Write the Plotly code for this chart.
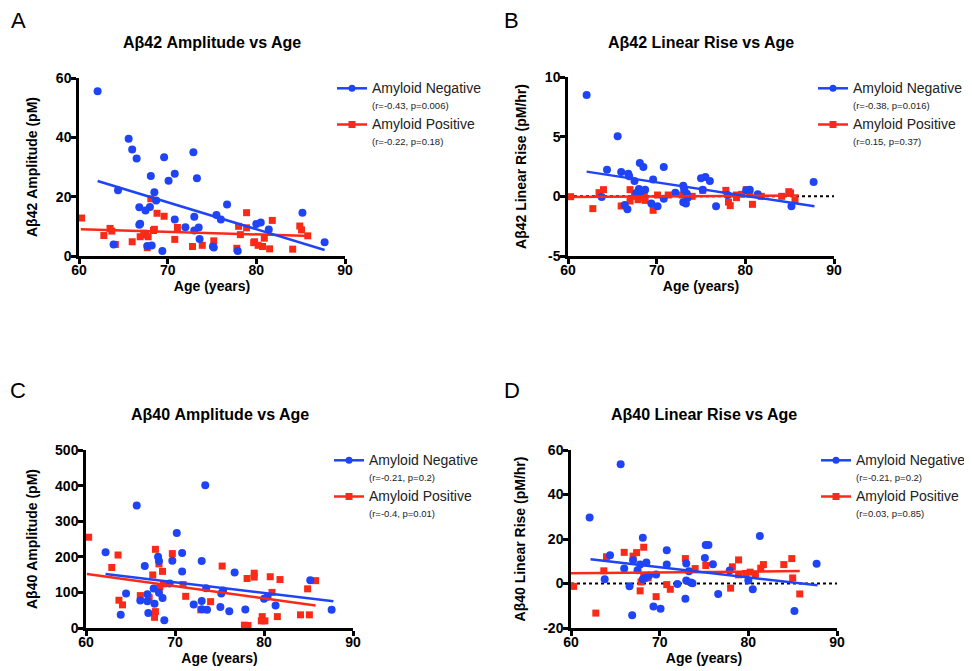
import plotly.graph_objects as go

# ---------------- DATA ----------------
# Panel A: Abeta42 amplitude (pM)
a_neg_age = [62.1, 65.6, 66.0, 66.5, 68.1, 69.6, 70.8, 70.1, 72.9, 73.3, 64.4, 68.5, 68.7, 66.8, 68.0, 67.5,
             70.8, 73.0, 76.7, 75.5, 76.0, 66.9, 66.8, 72.0, 73.5, 73.0, 80.0, 80.5, 81.4, 85.2, 73.6, 63.9,
             67.7, 68.2, 75.1, 75.2, 69.4, 77.9, 87.7]
a_neg_val = [55.5, 39.5, 35.9, 32.9, 27.0, 33.3, 27.7, 25.4, 35.0, 26.2, 22.2, 21.5, 18.7, 16.4, 16.5, 15.3,
             12.3, 13.2, 17.4, 13.8, 12.3, 10.9, 10.5, 9.7, 9.6, 8.6, 10.8, 11.3, 8.9, 14.6, 5.7, 3.9,
             3.4, 3.5, 3.2, 2.9, 1.7, 1.7, 4.6]
a_pos_age = [60.3, 62.8, 63.5, 63.7, 64.1, 66.0, 66.9, 67.3, 67.5, 67.8, 67.7, 68.1, 68.8, 69.6, 68.4, 68.5,
             70.8, 71.1, 72.8, 73.9, 75.2, 78.0, 78.2, 78.9, 78.9, 77.8, 79.7, 79.8, 80.2, 80.7, 80.9, 81.5,
             81.8, 84.1, 84.9, 85.1, 85.8]
a_pos_val = [12.8, 6.9, 9.3, 8.4, 3.9, 4.8, 6.5, 7.7, 7.1, 6.5, 2.8, 19.3, 14.4, 13.4, 8.6, 9.0,
             5.6, 9.6, 3.2, 3.6, 5.1, 10.0, 7.2, 14.6, 9.5, 2.6, 4.5, 4.8, 3.6, 3.2, 6.0, 2.4,
             12.0, 2.3, 10.1, 8.8, 6.8]
a_neg_fit_age = [62.1, 87.7]
a_neg_fit_val = [25.3, 2.0]
a_pos_fit_age = [60.2, 86.1]
a_pos_fit_val = [9.0, 6.75]

# Panel B: Abeta42 linear rise (pM/hr)
b_neg_age = [62.1, 65.6, 64.4, 66.0, 66.8, 66.9, 67.5, 68.1, 68.5, 70.8, 69.6, 67.7, 68.0, 68.2, 68.7, 63.8,
             66.4, 66.7, 69.4, 70.1, 70.8, 72.1, 73.0, 73.1, 73.4, 73.5, 73.0, 73.3, 75.0, 75.5, 76.0, 75.2,
             76.7, 78.0, 80.1, 80.5, 81.4, 85.2, 87.7]
b_neg_val = [8.49, 5.03, 2.23, 2.04, 1.90, 1.68, 1.28, 2.79, 2.46, 2.46, 1.42, 0.28, 0.61, 0.39, 0.56, -0.06,
             -0.73, -1.09, -0.61, -0.84, -0.20, 0.31, 0.89, 0.56, 0.22, -0.11, -0.50, -0.61, 1.51, 1.62, 1.28, 0.56,
             -0.84, 0.11, 0.50, 0.56, 0.17, -0.84, 1.20]
b_pos_age = [60.3, 62.8, 63.5, 64.0, 66.0, 67.0, 67.0, 67.5, 67.9, 68.4, 68.4, 68.6, 68.7, 69.6, 70.1, 71.3,
             72.9, 74.0, 75.2, 77.8, 78.1, 78.3, 79.0, 79.0, 79.6, 80.1, 80.5, 80.8, 81.8, 84.1, 84.9, 85.1,
             85.6]
b_pos_val = [-0.03, -1.03, 0.31, 0.56, -0.81, 0.56, -0.39, 0.0, -0.28, -0.14, 0.11, 0.22, -0.34, -1.17, 0.11, 0.11,
             0.11, 0.0, 0.5, 0.5, -0.48, -0.78, 0.11, -0.11, 0.17, 0.56, 0.17, -0.67, 0.0, 0.0, 0.39, 0.28,
             -0.34]
b_neg_fit_age = [62.1, 87.8]
b_neg_fit_val = [2.07, -0.84]
b_pos_fit_age = [60.0, 86.0]
b_pos_fit_val = [-0.06, 0.08]

# Panel C: Abeta40 amplitude (pM)
c_neg_age = [62.2, 65.7, 73.4, 70.2, 70.8, 70.8, 69.7, 73.0, 68.1, 68.2, 66.6, 64.5, 63.9, 66.1, 66.9, 66.9,
             67.0, 67.6, 67.7, 68.2, 68.6, 68.8, 69.4, 72.1, 73.0, 73.0, 73.6, 73.5, 75.1, 75.2, 75.4, 76.7,
             76.1, 77.9, 80.0, 80.4, 81.3, 85.2, 87.6]
c_neg_val = [213, 344, 401, 267, 211, 159, 189, 188, 200, 188, 174, 97, 37, 77, 95, 75,
             42, 111, 68, 99, 84, 22, 125, 66, 76, 53, 51, 112, 59, 97, 105, 156,
             47, 52, 82, 88, 63, 134, 51]
c_pos_age = [60.3, 62.9, 63.6, 63.7, 64.1, 66.1, 67.1, 67.5, 67.8, 68.2, 68.6, 68.7, 68.3, 67.8, 67.7, 69.7,
             70.9, 71.2, 72.9, 74.0, 75.3, 78.1, 78.9, 78.9, 77.8, 78.2, 79.8, 79.7, 80.1, 80.7, 80.9, 81.5,
             81.8, 84.1, 85.1, 84.9, 85.8]
c_pos_val = [255, 170, 205, 78, 65, 91, 85, 149, 221, 180, 159, 124, 115, 46, 30, 209,
             122, 89, 51, 74, 174, 139, 154, 143, 8, 7, 32, 20, 20, 144, 100, 32,
             136, 37, 37, 110, 133]
c_neg_fit_age = [62.2, 87.8]
c_neg_fit_val = [152, 75]
c_pos_fit_age = [60.1, 85.8]
c_pos_fit_val = [152, 63]

# Panel D: Abeta40 linear rise (pM/hr)
d_neg_age = [62.1, 65.6, 63.8, 64.4, 66.0, 66.6, 66.9, 67.0, 67.5, 67.8, 68.1, 68.1, 68.4, 68.5, 68.8, 69.3,
             69.6, 70.1, 70.8, 70.8, 72.0, 72.9, 73.0, 73.0, 73.3, 73.5, 73.7, 75.1, 75.2, 75.5, 76.0, 76.6,
             77.9, 80.0, 80.5, 81.3, 85.2, 87.7]
d_neg_val = [29.7, 53.6, 1.9, 12.7, 6.7, -1.2, -14.3, 10.5, 6.0, 8.5, 20.6, 1.9, 2.5, 9.4, 3.6, -10.3,
             4.0, -11.3, 14.9, 8.5, -0.2, -6.8, 9.0, 1.3, 5.5, 0.4, 0.1, 11.5, 17.3, 17.3, 8.6, -4.7,
             5.8, 1.3, -2.6, 21.3, -12.4, 8.9]
d_pos_age = [60.3, 62.8, 63.7, 64.0, 66.0, 67.0, 67.4, 67.8, 68.2, 67.9, 68.2, 68.7, 69.6, 70.8, 71.2, 72.9,
             74.0, 75.2, 78.0, 78.2, 78.9, 78.9, 79.7, 80.2, 80.8, 81.4, 81.7, 84.0, 84.9, 85.0, 85.8]
d_pos_val = [-1.3, -13.3, 5.7, 12.0, 14.0, 12.3, 13.9, -3.3, 16.3, 0.7, 3.1, 2.5, -5.9, -0.5, -2.6, 11.2,
             6.7, 8.1, -2.1, 7.5, 10.6, 3.9, 4.5, 5.1, 4.2, 6.9, 8.5, 8.5, 11.2, 2.5, -4.7]
d_neg_fit_age = [62.2, 87.8]
d_neg_fit_val = [10.9, -0.8]
d_pos_fit_age = [60.0, 85.8]
d_pos_fit_val = [4.6, 5.6]

zero_age = [60, 90]
zero_val = [0, 0]

age_ticks = [60, 70, 80, 90]
a_ticks = [0, 20, 40, 60]
b_ticks = [-5, 0, 5, 10]
b_ticktext = ["-5", "0", "5", "10"]
c_ticks = [0, 100, 200, 300, 400, 500]
d_ticks = [-20, 0, 20, 40, 60]
d_ticktext = ["-20", "0", "20", "40", "60"]

panel_titles = ["A\u03b242 Amplitude vs Age", "A\u03b242 Linear Rise vs Age",
                "A\u03b240 Amplitude vs Age", "A\u03b240 Linear Rise vs Age"]
y_titles = ["A\u03b242 Amplitude (pM)", "A\u03b242 Linear Rise (pM/hr)",
            "A\u03b240 Amplitude (pM)", "A\u03b240 Linear Rise (pM/hr)"]
panel_letters = ["A", "B", "C", "D"]
neg_stats = ["(r=-0.43, p=0.006)", "(r=-0.38, p=0.016)", "(r=-0.21, p=0.2)", "(r=-0.21, p=0.2)"]
pos_stats = ["(r=-0.22, p=0.18)", "(r=0.15, p=0.37)", "(r=-0.4, p=0.01)", "(r=0.03, p=0.85)"]

# ---------------- STYLE ----------------
BLUE = "#1f44f5"
RED = "#fa2a18"
FONT = "Arial, Liberation Sans, Helvetica, sans-serif"
PAGE_W, PAGE_H = 972, 671
OFF = 8  # default page margin around the plot div
W, H = PAGE_W - OFF, PAGE_H - OFF


def px_x(p):
    return (p - OFF) / W


def px_y(p):
    return 1 - (p - OFF) / H


# plot areas in page pixels: (left, right, top, bottom)
areas = [(79, 345, 78, 256), (568, 834, 77, 256), (86, 353, 450, 628), (571, 837, 450, 628)]

fig = go.Figure()

panels = [
    (a_neg_age, a_neg_val, a_pos_age, a_pos_val, a_neg_fit_age, a_neg_fit_val, a_pos_fit_age, a_pos_fit_val, False),
    (b_neg_age, b_neg_val, b_pos_age, b_pos_val, b_neg_fit_age, b_neg_fit_val, b_pos_fit_age, b_pos_fit_val, True),
    (c_neg_age, c_neg_val, c_pos_age, c_pos_val, c_neg_fit_age, c_neg_fit_val, c_pos_fit_age, c_pos_fit_val, False),
    (d_neg_age, d_neg_val, d_pos_age, d_pos_val, d_neg_fit_age, d_neg_fit_val, d_pos_fit_age, d_pos_fit_val, True),
]

for i, (na, nv, pa, pv, nfa, nfv, pfa, pfv, has_zero) in enumerate(panels):
    sfx = "" if i == 0 else str(i + 1)
    xr, yr = "x" + sfx, "y" + sfx
    lg = "legend" + sfx
    if has_zero:
        fig.add_trace(go.Scatter(x=zero_age, y=zero_val, mode="lines", xaxis=xr, yaxis=yr,
                                 line=dict(color="black", width=2, dash="dot"), showlegend=False,
                                 cliponaxis=False))
    fig.add_trace(go.Scatter(x=pa, y=pv, mode="markers", xaxis=xr, yaxis=yr, showlegend=False,
                             marker=dict(symbol="square", color=RED, size=7), cliponaxis=False))
    fig.add_trace(go.Scatter(x=na, y=nv, mode="markers", xaxis=xr, yaxis=yr, showlegend=False,
                             marker=dict(symbol="circle", color=BLUE, size=8), cliponaxis=False))
    fig.add_trace(go.Scatter(x=pfa, y=pfv, mode="lines", xaxis=xr, yaxis=yr, showlegend=False,
                             line=dict(color=RED, width=2.5), cliponaxis=False))
    fig.add_trace(go.Scatter(x=nfa, y=nfv, mode="lines", xaxis=xr, yaxis=yr, showlegend=False,
                             line=dict(color=BLUE, width=2.5), cliponaxis=False))
    # legend entries
    fig.add_trace(go.Scatter(x=[None], y=[None], mode="lines+markers", xaxis=xr, yaxis=yr, legend=lg,
                             legendgroup="neg" + sfx,
                             name="<span style='font-size:14px'>Amyloid Negative</span><br>"
                                  "<span style='font-size:9.5px'>" + neg_stats[i] + "</span>",
                             line=dict(color=BLUE, width=2.5), marker=dict(symbol="circle", color=BLUE, size=7)))
    fig.add_trace(go.Scatter(x=[None], y=[None], mode="lines+markers", xaxis=xr, yaxis=yr, legend=lg,
                             legendgroup="pos" + sfx,
                             name="<span style='font-size:14px'>Amyloid Positive</span><br>"
                                  "<span style='font-size:9.5px'>" + pos_stats[i] + "</span>",
                             line=dict(color=RED, width=2.5), marker=dict(symbol="square", color=RED, size=7)))

axis_common = dict(showline=True, linewidth=2.5, linecolor="black", ticks="outside", ticklen=5,
                   tickwidth=2.5, tickcolor="black", showgrid=False, zeroline=False,
                   tickfont=dict(family=FONT, size=14, color="black", weight="bold"))
ytick_sets = [(a_ticks, None, [0, 60]), (b_ticks, b_ticktext, [-5, 10]),
              (c_ticks, None, [0, 500]), (d_ticks, d_ticktext, [-20, 60])]

layout = dict(width=W, height=H, margin=dict(l=0, r=0, t=0, b=0, autoexpand=False), plot_bgcolor="white",
              paper_bgcolor="white", font=dict(family=FONT, color="black"))

legend_pos = [(332, 74), (813, 74), (329, 446), (816, 446)]
annotations = []
letter_pos = [(18, 20), (511, 20), (18, 391), (512, 391)]
for i in range(4):
    sfx = "" if i == 0 else str(i + 1)
    l, r, t, b = areas[i]
    yt, ytxt, yrng = ytick_sets[i]
    xa = dict(axis_common, domain=[px_x(l), px_x(r)], range=[60, 90], tickvals=age_ticks,
              anchor="y" + sfx, ticklabelstandoff=-6,
              title=dict(text="Age (years)", font=dict(family=FONT, size=14, color="black", weight="bold"),
                         standoff=4))
    ya = dict(axis_common, domain=[px_y(b), px_y(t)], range=yrng, tickvals=yt,
              anchor="x" + sfx, ticklabelstandoff=-3,
              title=dict(text=y_titles[i], font=dict(family=FONT, size=14, color="black", weight="bold"),
                         standoff=15))
    if ytxt is not None:
        ya["ticktext"] = ytxt
    layout["xaxis" + sfx] = xa
    layout["yaxis" + sfx] = ya
    lx, ly = legend_pos[i]
    layout["legend" + sfx] = dict(x=px_x(lx), y=px_y(ly), xanchor="left", yanchor="top",
                                  bgcolor="rgba(0,0,0,0)", font=dict(family=FONT, size=12, color="#222"),
                                  tracegroupgap=2, valign="top", itemwidth=30)
    annotations.append(dict(text="<b>" + panel_titles[i] + "</b>", x=px_x((l + r) / 2),
                            y=px_y(42 if i < 2 else 414), xref="paper", yref="paper",
                            xanchor="center", yanchor="middle", showarrow=False,
                            font=dict(family=FONT, size=16, color="black")))
    lxp, lyp = letter_pos[i]
    annotations.append(dict(text=panel_letters[i], x=px_x(lxp), y=px_y(lyp), xref="paper", yref="paper",
                            xanchor="center", yanchor="middle", showarrow=False,
                            font=dict(family=FONT, size=22, color="black")))
layout["annotations"] = annotations
fig.update_layout(**layout)

fig.write_html("out.html")
